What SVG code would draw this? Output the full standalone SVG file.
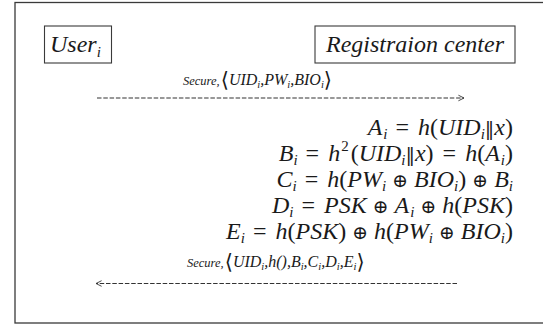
<svg xmlns="http://www.w3.org/2000/svg" width="543" height="325" viewBox="0 0 543 325" font-family="'Liberation Serif', 'DejaVu Serif', serif">
  <defs>
    <style>
      .frame { fill: none; stroke: #3a3a3a; stroke-width: 1.3; }
      .box { fill: #ffffff; stroke: #3a3a3a; stroke-width: 1.1; }
      text { fill: #1a1a1a; }
      .it { font-style: italic; }
      .title { font-size: 24px; font-style: italic; }
      .eq { font-size: 24px; }
      .sub { font-style: italic; font-size: 15px; }
      .lbl { font-size: 12.5px; font-style: italic; }
      .arg { font-size: 16px; }
      .ssub { font-size: 10.5px; }
      .ang { font-family: 'DejaVu Serif', serif; font-style: normal; font-size: 21px; }
      .sym { font-family: 'DejaVu Serif', serif; font-style: normal; font-size: 19px; }
      .msg { fill: none; stroke: #333333; stroke-width: 1.1; stroke-dasharray: 4.5 1.8; }
    </style>
    <marker id="open-head" viewBox="0 0 10 10" refX="9" refY="5" markerWidth="8" markerHeight="8" orient="auto-start-reverse" markerUnits="userSpaceOnUse">
      <path d="M2,1.5 L9,5 L2,8.5" fill="none" stroke="#333333" stroke-width="1.1"/>
    </marker>
  </defs>

  <!-- outer frame, right side runs past the canvas -->
  <rect class="frame" x="15" y="2.5" width="540" height="320.5"/>

  <g id="user">
    <rect class="box" x="44.5" y="26" width="67" height="37"/>
    <text class="title" x="50" y="52">User<tspan font-size="15" dy="5">i</tspan></text>
  </g>

  <g id="registration-center">
    <rect class="box" x="315" y="26" width="200" height="37"/>
    <text class="title" x="415" y="52" text-anchor="middle">Registraion center</text>
  </g>

  <g id="connectors">
    <line class="msg" x1="97" y1="98" x2="464" y2="98" marker-end="url(#open-head)"/>
    <text class="lbl" x="183" y="85">Secure,<tspan class="ang" dy="2" dx="1">⟨</tspan><tspan class="arg" dy="-2">UID</tspan><tspan class="ssub" dy="3">i</tspan><tspan class="arg" dy="-3">,PW</tspan><tspan class="ssub" dy="3">i</tspan><tspan class="arg" dy="-3">,BIO</tspan><tspan class="ssub" dy="3">i</tspan><tspan class="ang" dy="-1">⟩</tspan></text>

    <line class="msg" x1="457" y1="283.5" x2="96" y2="283.5" marker-end="url(#open-head)"/>
    <text class="lbl" x="187" y="266.5">Secure,<tspan class="ang" dy="2" dx="1">⟨</tspan><tspan class="arg" dy="-2">UID</tspan><tspan class="ssub" dy="3">i</tspan><tspan class="arg" dy="-3">,h(),B</tspan><tspan class="ssub" dy="3">i</tspan><tspan class="arg" dy="-3">,C</tspan><tspan class="ssub" dy="3">i</tspan><tspan class="arg" dy="-3">,D</tspan><tspan class="ssub" dy="3">i</tspan><tspan class="arg" dy="-3">,E</tspan><tspan class="ssub" dy="3">i</tspan><tspan class="ang" dy="-1">⟩</tspan></text>
  </g>

  <g id="equations" class="eq">
    <text x="513" y="135" text-anchor="end"><tspan class="it">A</tspan><tspan class="sub" dy="4" dx="1">i</tspan><tspan dy="-4" dx="8">=</tspan><tspan class="it" dx="9">h</tspan>(<tspan class="it">UID</tspan><tspan class="sub" dy="4">i</tspan><tspan class="sym" dy="-4">‖</tspan><tspan class="it">x</tspan>)</text>
    <text x="513" y="161" text-anchor="end"><tspan class="it">B</tspan><tspan class="sub" dy="4">i</tspan><tspan dy="-4" dx="8">=</tspan><tspan class="it" dx="9">h</tspan><tspan font-size="15" dy="-10" dx="1">2</tspan><tspan dy="10" dx="2">(</tspan><tspan class="it">UID</tspan><tspan class="sub" dy="4">i</tspan><tspan class="sym" dy="-4">‖</tspan><tspan class="it">x</tspan>)<tspan dx="9">=</tspan><tspan class="it" dx="9">h</tspan>(<tspan class="it">A</tspan><tspan class="sub" dy="4" dx="1">i</tspan><tspan dy="-4">)</tspan></text>
    <text x="513" y="187" text-anchor="end"><tspan class="it">C</tspan><tspan class="sub" dy="4">i</tspan><tspan dy="-4" dx="8">=</tspan><tspan class="it" dx="9">h</tspan>(<tspan class="it">PW</tspan><tspan class="sub" dy="4">i</tspan><tspan class="sym" dy="-4" dx="6">⊕</tspan><tspan class="it" dx="6">BIO</tspan><tspan class="sub" dy="4">i</tspan><tspan dy="-4">)</tspan><tspan class="sym" dx="6">⊕</tspan><tspan class="it" dx="6">B</tspan><tspan class="sub" dy="4">i</tspan></text>
    <text x="513" y="213" text-anchor="end"><tspan class="it">D</tspan><tspan class="sub" dy="4">i</tspan><tspan dy="-4" dx="8">=</tspan><tspan class="it" dx="9">PSK</tspan><tspan class="sym" dx="6">⊕</tspan><tspan class="it" dx="6">A</tspan><tspan class="sub" dy="4" dx="1">i</tspan><tspan class="sym" dy="-4" dx="6">⊕</tspan><tspan class="it" dx="6">h</tspan>(<tspan class="it">PSK</tspan>)</text>
    <text x="513" y="239" text-anchor="end"><tspan class="it">E</tspan><tspan class="sub" dy="4">i</tspan><tspan dy="-4" dx="8">=</tspan><tspan class="it" dx="9">h</tspan>(<tspan class="it">PSK</tspan>)<tspan class="sym" dx="6">⊕</tspan><tspan class="it" dx="6">h</tspan>(<tspan class="it">PW</tspan><tspan class="sub" dy="4">i</tspan><tspan class="sym" dy="-4" dx="6">⊕</tspan><tspan class="it" dx="6">BIO</tspan><tspan class="sub" dy="4">i</tspan><tspan dy="-4">)</tspan></text>
  </g>
</svg>
